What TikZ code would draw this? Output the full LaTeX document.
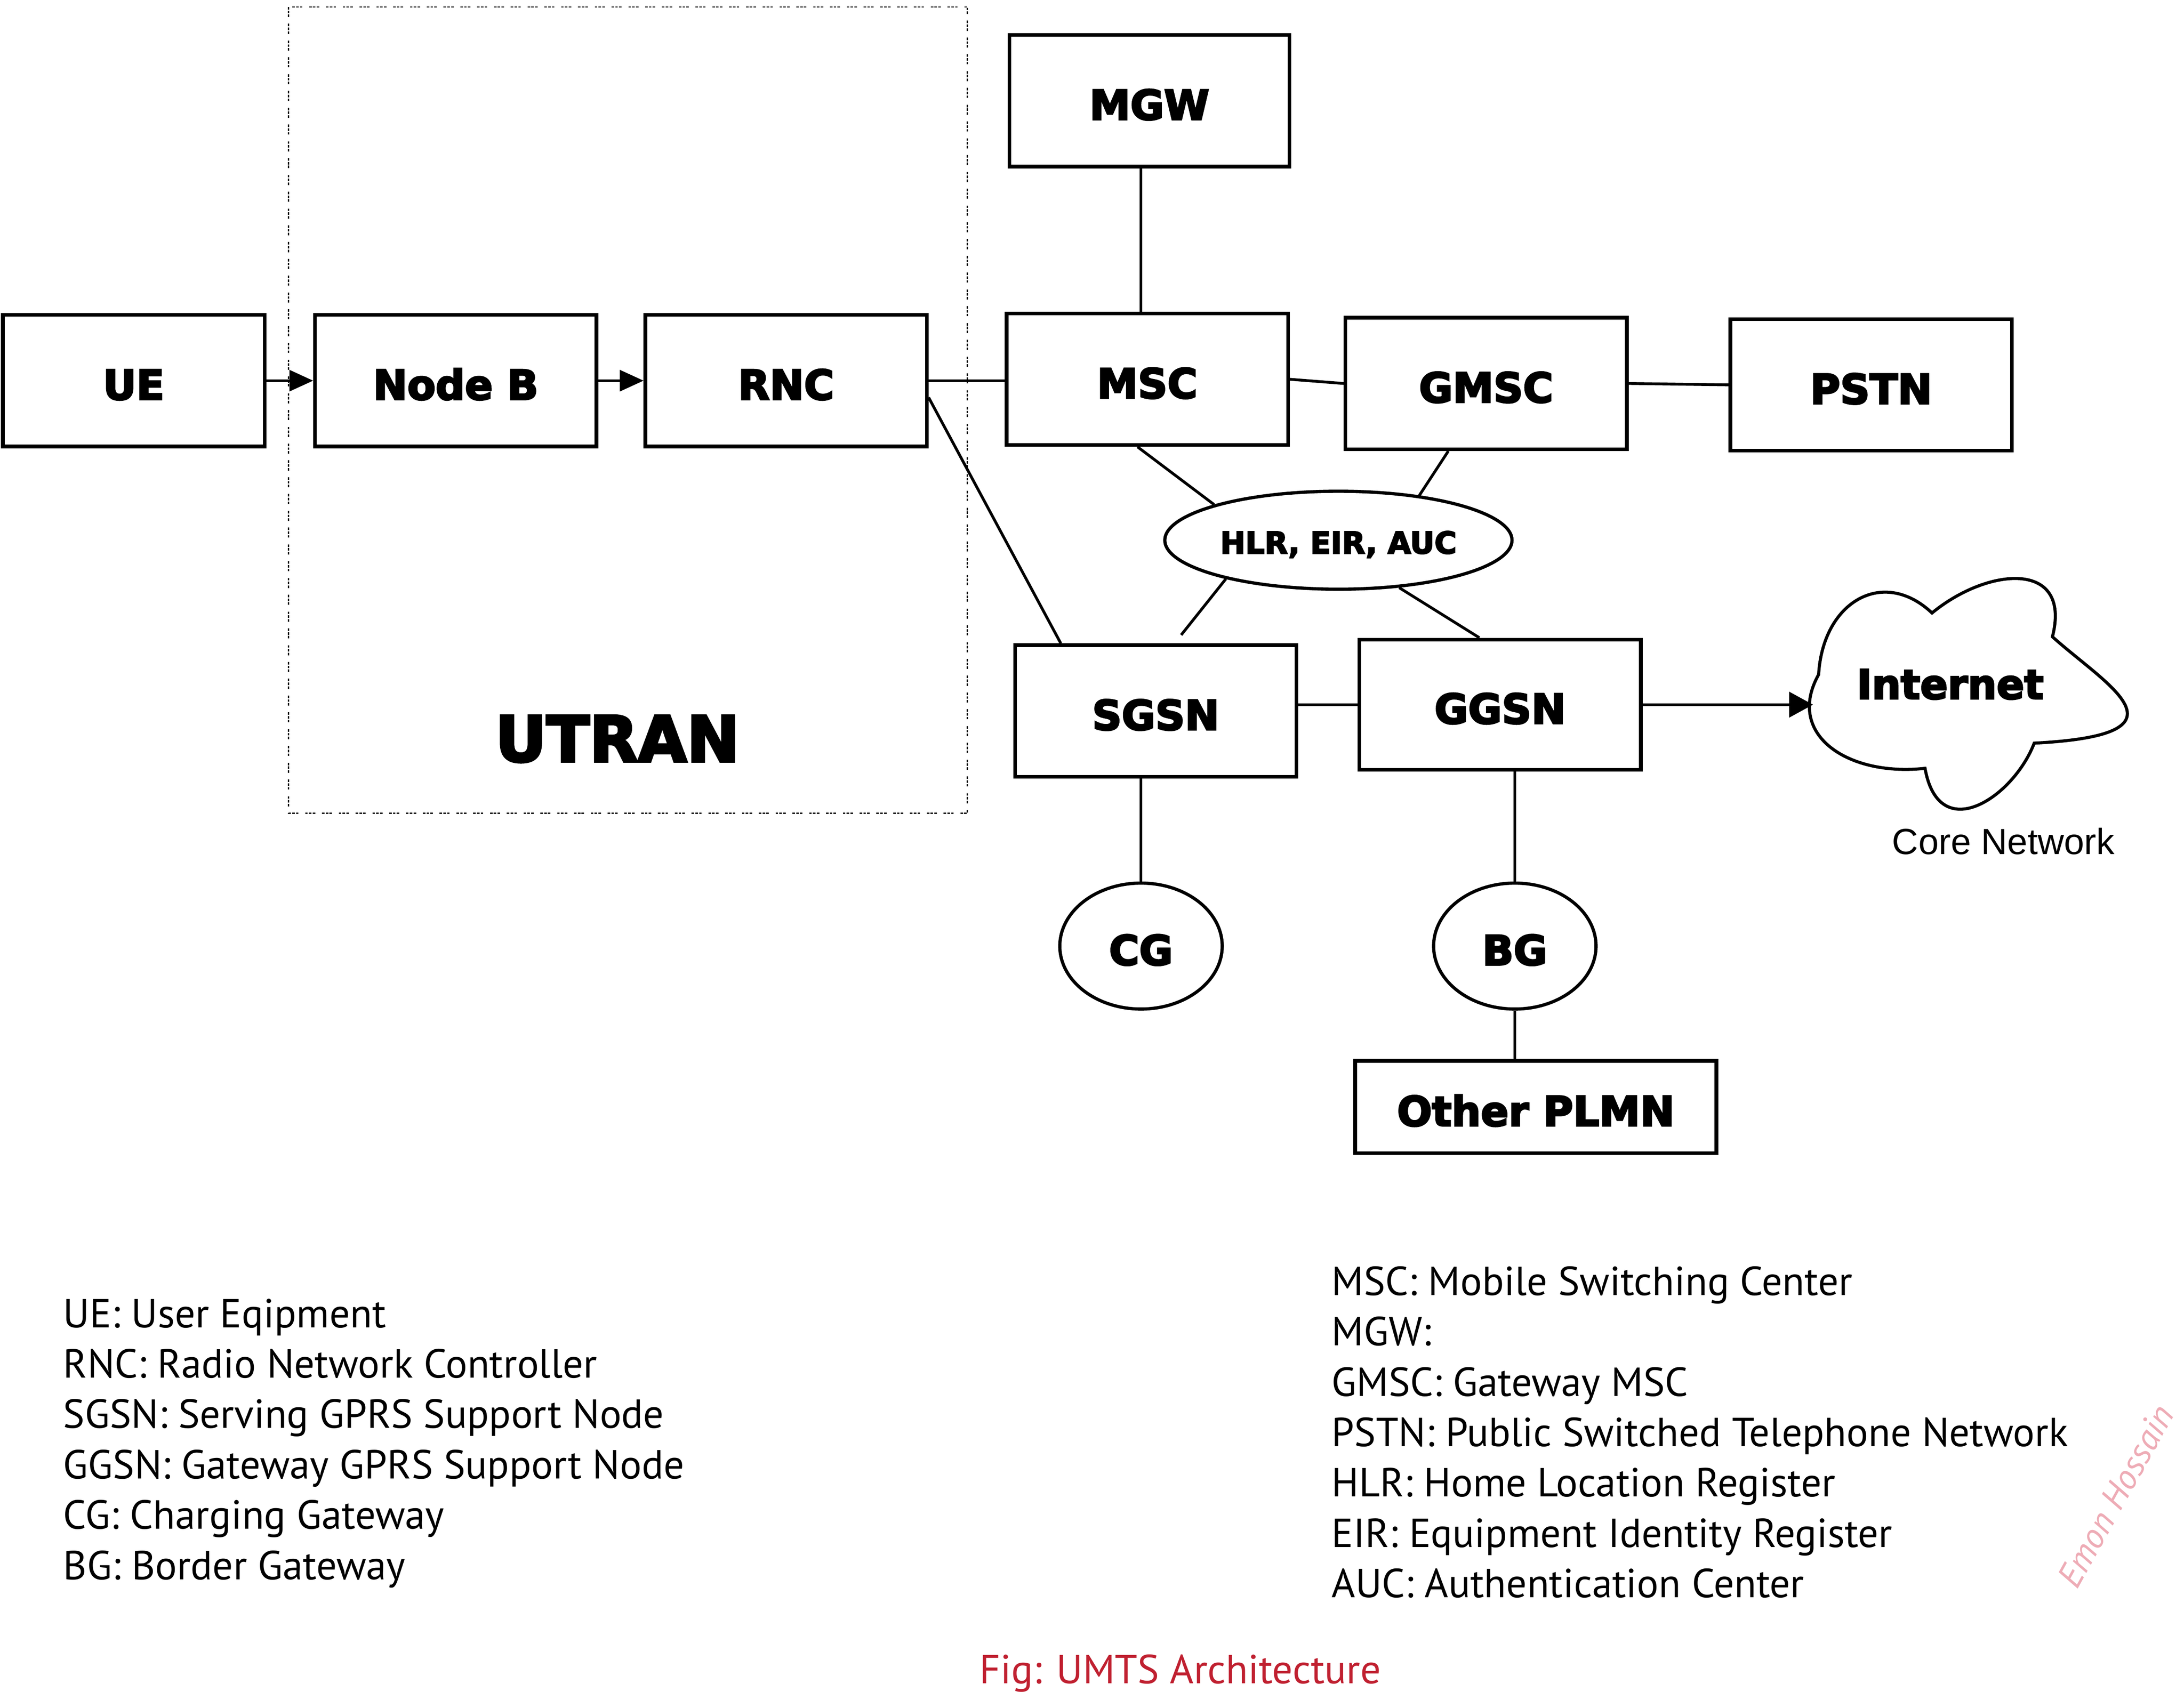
\documentclass[tikz,border=0pt]{standalone}
\usepackage{fontspec}
\setmainfont{PT Sans}
\newfontfamily\heavyfont{DejaVu Sans Bold}[FakeBold=4]
\newfontfamily\arialfont{Liberation Sans}
\usetikzlibrary{arrows.meta,shapes.geometric}
\definecolor{capred}{RGB}{192,32,48}
\definecolor{wmpink}{RGB}{238,172,182}
\begin{document}
\begin{tikzpicture}[x=1pt,y=-1pt,
  box/.style 2 args={draw, line width=2.6pt, rectangle, minimum width=#1, minimum height=#2,
    inner sep=0pt, text height=27pt, text depth=0pt,
    font=\heavyfont\fontsize{29.3}{30}\selectfont},
  oval/.style 2 args={draw, line width=2.3pt, ellipse, minimum width=#1, minimum height=#2,
    inner sep=0pt, text height=27pt, text depth=0pt,
    font=\heavyfont\fontsize{29.3}{30}\selectfont},
  conn/.style={line width=2pt},
  arr/.style={line width=2pt, -{Triangle[length=17pt,width=15pt]}},
  arrbig/.style={line width=2pt, -{Triangle[length=17pt,width=18pt]}},
  legend/.style={anchor=base west, inner sep=0pt, font=\fontsize{29}{34}\selectfont},
  framestyle/.style={line width=0.9pt,
    dash pattern=on 1.8pt off 0.9pt on 1.8pt off 0.9pt on 1.8pt off 4.8pt},
]
\fill[white] (0,0) rectangle (1560,1209);
\useasboundingbox (0,0) rectangle (1560,1209);

% UTRAN frame
\draw[framestyle] (206,5) rectangle (691,581);
\node[inner sep=0pt, font=\heavyfont\fontsize{45}{48}\selectfont] (utran) at (441,528) {UTRAN};

% boxes
\node[box={187pt}{94pt}] (UE) at (95.5,272) {UE};
\node[box={201pt}{94pt}] (NodeB) at (325.5,272) {Node B};
\node[box={201pt}{94pt}] (RNC) at (561.5,272) {RNC};
\node[box={200pt}{94pt}] (MGW) at (821,72) {MGW};
\node[box={201pt}{94pt}] (MSC) at (819.5,271) {MSC};
\node[box={201pt}{94pt}] (GMSC) at (1061.5,274) {GMSC};
\node[box={201pt}{94pt}] (PSTN) at (1336.5,275) {PSTN};
\node[box={201pt}{94pt}] (SGSN) at (825.5,508) {SGSN};
\node[box={201pt}{93pt}] (GGSN) at (1071.5,503.5) {GGSN};
\node[box={258pt}{66pt}] (PLMN) at (1097,791) {Other PLMN};

% ellipses
\node[oval={248pt}{70pt}, font=\heavyfont\fontsize{21.5}{23}\selectfont, text height=19pt] (HLR) at (956,386) {HLR, EIR, AUC};
\node[oval={116pt}{90pt}] (CG) at (815,676) {CG};
\node[oval={116pt}{90pt}] (BG) at (1082,676) {BG};

% cloud
\draw[line width=2.2pt] (1380,438)
  .. controls (1420,405) and (1480,400) .. (1466,455)
  .. controls (1505,490) and (1570,525) .. (1453,531)
  .. controls (1438,570) and (1385,605) .. (1375,549)
  .. controls (1320,555) and (1275,525) .. (1299,482)
  .. controls (1302,430) and (1345,405) .. cycle;
\node[inner sep=0pt, font=\heavyfont\fontsize{29}{30}\selectfont] (inet) at (1393,489) {Internet};
\coordinate (cloudin) at (1295,503.5);
\node[inner sep=0pt, font=\arialfont\fontsize{26}{28}\selectfont] (core) at (1431,601) {Core Network};

% connectors
\coordinate (sgend) at ([shift={(120pt,6pt)}]SGSN.north west);
\draw[arr] (UE.east) -- (NodeB.west);
\draw[arr] (NodeB.east) -- (RNC.west);
\draw[conn] (RNC.east) -- (RNC.east -| MSC.west);
\draw[conn] ([yshift=-12pt]RNC.east) -- ([xshift=34pt]SGSN.north west);
\draw[conn] ([xshift=-6pt]MGW.south) -- ([xshift=-6pt]MGW.south |- MSC.north);
\draw[conn] (MSC.east) -- (GMSC.west);
\draw[conn] (GMSC.east) -- (PSTN.west);
\draw[conn] ([xshift=-7pt]MSC.south) -- (HLR.164.6);
\draw[conn] ([xshift=-27pt]GMSC.south) -- (HLR.29);
\draw[conn] (HLR.199.7) -- (sgend);
\draw[conn] (HLR.322) -- ([xshift=87pt]GGSN.north west);
\draw[conn] (GGSN.west -| SGSN.east) -- (GGSN.west);
\draw[arrbig] (GGSN.east) -- (cloudin);
\draw[conn] (CG.north) -- (CG.north |- SGSN.south);
\draw[conn] (BG.north) -- (BG.north |- GGSN.south);
\draw[conn] (BG.south) -- (BG.south |- PLMN.north);

% legends
\node[legend] (l1) at (45,948.5) {UE: User Eqipment};
\node[legend] (l2) at (45,984.5) {RNC: Radio Network Controller};
\node[legend] (l3) at (45,1020.5) {SGSN: Serving GPRS Support Node};
\node[legend] (l4) at (45,1056.5) {GGSN: Gateway GPRS Support Node};
\node[legend] (l5) at (45,1092.5) {CG: Charging Gateway};
\node[legend] (l6) at (45,1128.5) {BG: Border Gateway};

\node[legend] (r1) at (951,925.5) {MSC: Mobile Switching Center};
\node[legend] (r2) at (951,961.5) {MGW:};
\node[legend] (r3) at (951,997.5) {GMSC: Gateway MSC};
\node[legend] (r4) at (951,1033.5) {PSTN: Public Switched Telephone Network};
\node[legend] (r5) at (951,1069.5) {HLR: Home Location Register};
\node[legend] (r6) at (951,1105.5) {EIR: Equipment Identity Register};
\node[legend] (r7) at (951,1141.5) {AUC: Authentication Center};

\node[anchor=base, inner sep=0pt, text=capred, font=\fontsize{29}{30}\selectfont] (caption) at (843,1203) {Fig: UMTS Architecture};
\node[rotate=61, inner sep=0pt, text=wmpink, font=\itshape\fontsize{25}{27}\selectfont] (wm) at (1511,1069) {Emon Hossain};
\end{tikzpicture}
\end{document}
